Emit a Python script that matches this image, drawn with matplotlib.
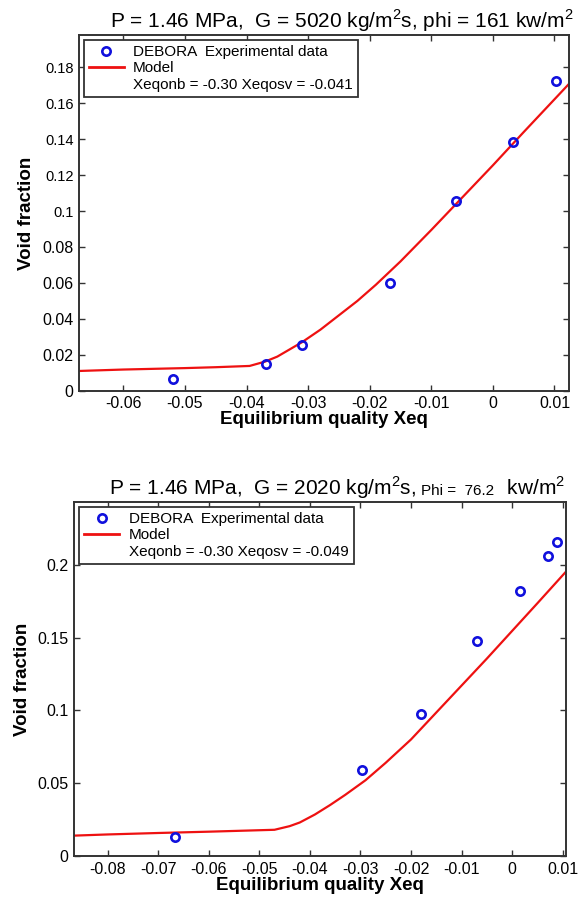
import matplotlib
matplotlib.use("Agg")
import matplotlib.pyplot as plt
from matplotlib.lines import Line2D
from matplotlib.offsetbox import TextArea, HPacker, AnchoredOffsetbox

plt.rcParams['font.family'] = ['Liberation Sans', 'DejaVu Sans']
plt.rcParams['mathtext.fontset'] = 'custom'
plt.rcParams['mathtext.rm'] = 'Liberation Sans'

# ---------------- data: top panel (G = 5020) ----------------
exp1_x = [-0.0519, -0.0368, -0.0310, -0.0167, -0.0060, 0.0033, 0.0102]
exp1_y = [0.0068, 0.0151, 0.0253, 0.0600, 0.1055, 0.1385, 0.1725]
mod1_x = [-0.0672, -0.060, -0.050, -0.045, -0.0395, -0.037, -0.035, -0.031,
          -0.028, -0.025, -0.022, -0.019, -0.015, -0.010, -0.005, 0.000,
          0.005, 0.0124]
mod1_y = [0.0110, 0.0118, 0.0126, 0.0131, 0.0138, 0.0162, 0.0190, 0.0270,
          0.0340, 0.0420, 0.0500, 0.0590, 0.0720, 0.0895, 0.1075, 0.1255,
          0.1440, 0.1710]
xt1 = [-0.06, -0.05, -0.04, -0.03, -0.02, -0.01, 0, 0.01]
xt1_lab = ['-0.06', '-0.05', '-0.04', '-0.03', '-0.02', '-0.01', '0', '0.01']
yt1 = [0, 0.02, 0.04, 0.06, 0.08, 0.10, 0.12, 0.14, 0.16, 0.18]
yt1_lab = ['0', '0.02', '0.04', '0.06', '0.08', '0.1', '0.12', '0.14', '0.16', '0.18']

# ---------------- data: bottom panel (G = 2020) ----------------
exp2_x = [-0.0667, -0.0297, -0.0181, -0.0070, 0.0015, 0.0071, 0.0088]
exp2_y = [0.0129, 0.0590, 0.0976, 0.1479, 0.1820, 0.2057, 0.2154]
mod2_x = [-0.0866, -0.08, -0.07, -0.06, -0.05, -0.047, -0.044, -0.042, -0.039,
          -0.036, -0.033, -0.029, -0.025, -0.020, -0.015, -0.010, -0.005,
          0.000, 0.005, 0.0106]
mod2_y = [0.0140, 0.0148, 0.0158, 0.0167, 0.0177, 0.0180, 0.0205, 0.0230,
          0.0285, 0.0350, 0.0420, 0.0520, 0.0640, 0.0800, 0.0985, 0.1170,
          0.1355, 0.1545, 0.1735, 0.1950]
xt2 = [-0.08, -0.07, -0.06, -0.05, -0.04, -0.03, -0.02, -0.01, 0, 0.01]
xt2_lab = ['-0.08', '-0.07', '-0.06', '-0.05', '-0.04', '-0.03', '-0.02', '-0.01', '0', '0.01']
yt2 = [0, 0.05, 0.10, 0.15, 0.20]
yt2_lab = ['0', '0.05', '0.1', '0.15', '0.2']

legend_exp = 'DEBORA  Experimental data'
legend_mod = 'Model'
legend_note1 = 'Xeqonb = -0.30 Xeqosv = -0.041'
legend_note2 = 'Xeqonb = -0.30 Xeqosv = -0.049'

fig = plt.figure(figsize=(5.79, 8.97), dpi=100)
ax1 = fig.add_axes([0.1364, 0.5644, 0.8468, 0.3965])
ax2 = fig.add_axes([0.1283, 0.0457, 0.8487, 0.3946])

spine_col = '#333333'


def style(ax, xt, xtl, yt, ytl, xlim, ylim):
    ax.set_xlim(*xlim)
    ax.set_ylim(*ylim)
    ax.set_xticks(xt)
    ax.set_xticklabels(xtl)
    ax.set_yticks(yt)
    ax.set_yticklabels(ytl)
    ax.tick_params(direction='in', top=True, right=True, length=4, width=1,
                   labelsize=11.5, colors=spine_col, labelcolor='black', pad=4)
    for s in ax.spines.values():
        s.set_color(spine_col)
        s.set_linewidth(1.4)
    ax.set_xlabel('Equilibrium quality Xeq', fontsize=13.5, fontweight='bold', labelpad=0)
    ax.set_ylabel('Void fraction', fontsize=13.5, fontweight='bold', labelpad=5)


def draw(ax, ex, ey, mx, my, note):
    ax.plot(mx, my, color='#ee1111', lw=1.6, zorder=2)
    ax.plot(ex, ey, linestyle='none', marker='o', ms=6, mfc='none',
            mec='#1010dd', mew=1.9, zorder=3)
    handles = [Line2D([], [], linestyle='none', marker='o', ms=6, mfc='none',
                      mec='#1010dd', mew=1.9),
               Line2D([], [], color='#ee1111', lw=2.0),
               Line2D([], [], color='none')]
    leg = ax.legend(handles, [legend_exp, legend_mod, note], loc='upper left',
                    fontsize=11, frameon=True, fancybox=False,
                    borderaxespad=0.3, handlelength=2.3, handletextpad=0.6,
                    labelspacing=0.15, borderpad=0.35)
    leg.get_frame().set_edgecolor('#333333')
    leg.get_frame().set_linewidth(1.3)
    leg.get_frame().set_alpha(1)


style(ax1, xt1, xt1_lab, yt1, yt1_lab, (-0.0672, 0.0124), (0, 0.198))
draw(ax1, exp1_x, exp1_y, mod1_x, mod1_y, legend_note1)
for lab in ax1.get_yticklabels():
    if lab.get_text() in ('0.1', '0.12', '0.14', '0.16', '0.18'):
        lab.set_fontsize(10.5)
ax1.set_title('P = 1.46 MPa,  G = 5020 kg/m$^{2}$s, phi = 161 kw/m$^{2}$',
              fontsize=15, pad=5, x=0.535)

style(ax2, xt2, xt2_lab, yt2, yt2_lab, (-0.0866, 0.0106), (0, 0.243))
draw(ax2, exp2_x, exp2_y, mod2_x, mod2_y, legend_note2)

t1 = TextArea('P = 1.46 MPa,  G = 2020 kg/m$^{2}$s, ', textprops=dict(fontsize=15))
t2 = TextArea('Phi =  76.2 ', textprops=dict(fontsize=11))
t3 = TextArea(' kw/m$^{2}$', textprops=dict(fontsize=15))
box = HPacker(children=[t1, t2, t3], align='baseline', pad=0, sep=2)
anch = AnchoredOffsetbox(loc='lower center', child=box, frameon=False,
                         bbox_to_anchor=(0.535, 1.0), bbox_transform=ax2.transAxes,
                         borderpad=0.05, pad=0)
ax2.add_artist(anch)

fig.savefig('out.png', dpi=100)
